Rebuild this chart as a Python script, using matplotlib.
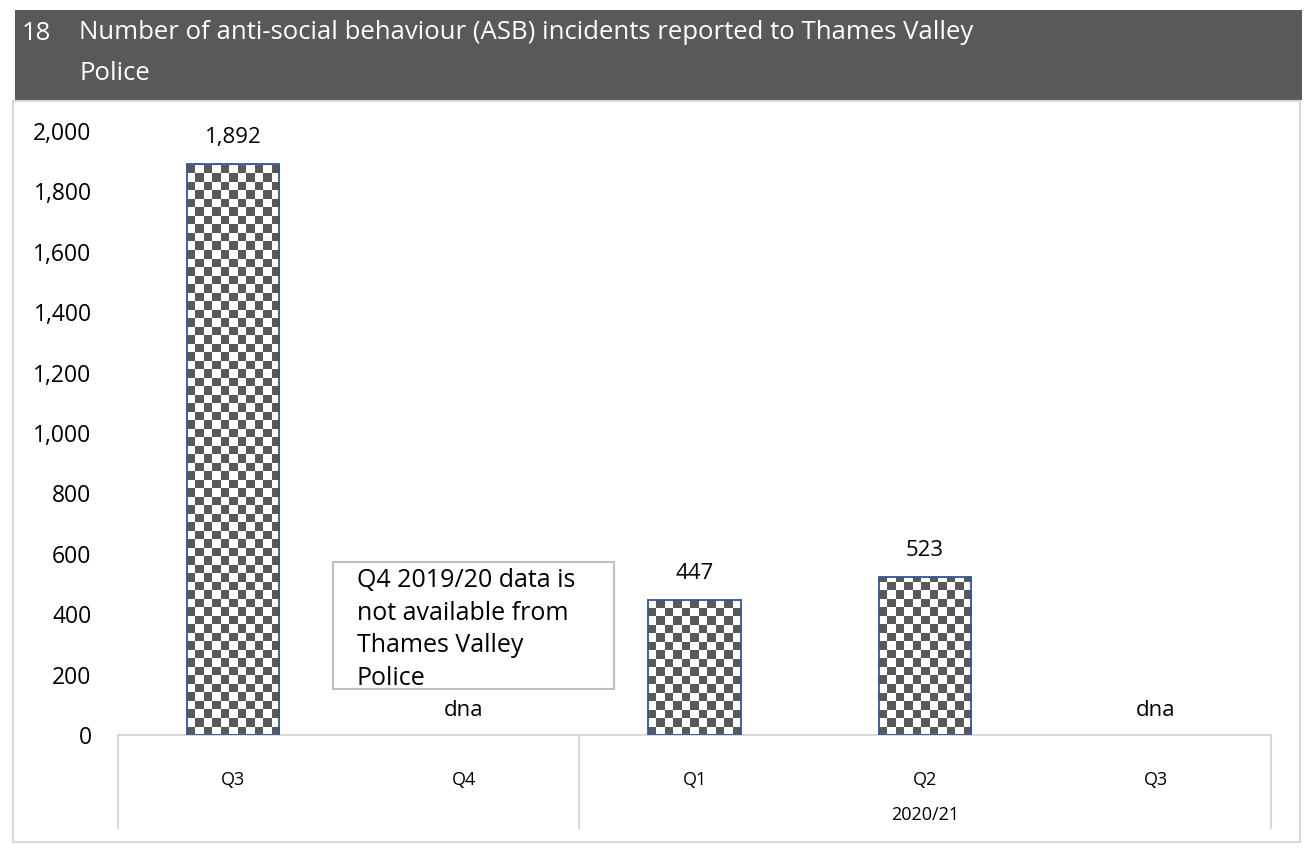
import numpy as np
import matplotlib
matplotlib.use('Agg')
from matplotlib import pyplot as plt
from matplotlib.patches import Rectangle
from matplotlib.transforms import blended_transform_factory

# data
quarters = ['Q3', 'Q4', 'Q1', 'Q2', 'Q3']
asb_counts = [1892, np.nan, 447, 523, np.nan]
year_labels = ['', '2020/21']
year_spans = [(0, 1), (2, 4)]
y_ticks = [0, 200, 400, 600, 800, 1000, 1200, 1400, 1600, 1800, 2000]
title_num = '18'
title_text = 'Number of anti-social behaviour (ASB) incidents reported to Thames Valley\nPolice'
note_text = 'Q4 2019/20 data is\nnot available from\nThames Valley\nPolice'

W, H = 1304, 848
plt.rcParams['font.family'] = ['Open Sans', 'DejaVu Sans']
dark = '#595959'
grid_col = '#D9D9D9'

fig = plt.figure(figsize=(W / 100, H / 100), dpi=100)

def fx(px):
    return px / W

def fy(py):
    return 1 - py / H

# header band and outer chart border
fig.patches.append(Rectangle((fx(15), fy(100)), fx(1302 - 15), (90) / H,
                             transform=fig.transFigure, facecolor=dark, edgecolor='none', zorder=-2))
fig.patches.append(Rectangle((fx(13), fy(842)), fx(1300 - 13), (842 - 101) / H,
                             transform=fig.transFigure, facecolor='none', edgecolor=grid_col,
                             linewidth=1.5, zorder=-1))
fig.text(fx(22), fy(33), title_num, color='white', fontsize=18.5, va='center', ha='left')
fig.text(fx(79), fy(20), title_text, color='white', fontsize=18.5, va='top', ha='left',
         linespacing=1.85)

# plot area
ax_l, ax_r, ax_t, ax_b = 118, 1271, 131, 735
ax = fig.add_axes([fx(ax_l), fy(ax_b), fx(ax_r - ax_l), (ax_b - ax_t) / H])
ax.set_xlim(-0.5, len(quarters) - 0.5)
ax.set_ylim(0, 2000)
ax.patch.set_visible(False)
for s in ax.spines.values():
    s.set_visible(False)

x = np.arange(len(quarters))
bar_w = 0.4
bars = ax.bar(x, asb_counts, width=bar_w, facecolor='none',
              edgecolor='#2F5597', linewidth=1.3, zorder=3)

# checkerboard fill clipped to each bar
cell_px = 8.5
px_per_x = (ax_r - ax_l) / (len(quarters))
px_per_y = (ax_b - ax_t) / 2000
for b, v in zip(bars, asb_counts):
    if np.isnan(v):
        continue
    nx = int(round(bar_w * px_per_x / cell_px))
    ny = int(np.ceil(v * px_per_y / cell_px)) + 1
    cw = bar_w / nx
    ch = cell_px / px_per_y
    checker = (np.add.outer(np.arange(ny), np.arange(nx)) % 2).astype(float)
    left = b.get_x()
    im = ax.imshow(checker, cmap=matplotlib.colors.ListedColormap([dark, 'white']),
                   extent=(left, left + nx * cw, 0, ny * ch), origin='lower',
                   interpolation='nearest', aspect='auto', zorder=2)
    im.set_clip_path(b)
ax.set_xlim(-0.5, len(quarters) - 0.5)
ax.set_ylim(0, 2000)

# data labels
for xi, v in zip(x, asb_counts):
    if np.isnan(v):
        ax.annotate('dna', (xi, 0), xytext=(0, 18), textcoords='offset points',
                    ha='center', va='center', fontsize=16)
    else:
        ax.annotate(f'{int(v):,}', (xi, v), xytext=(0, 19), textcoords='offset points',
                    ha='center', va='center', fontsize=16)

ax.set_yticks(y_ticks)
ax.set_yticklabels([f'{t:,}' for t in y_ticks], fontsize=16.5)
ax.tick_params(axis='y', length=0, pad=19)
ax.set_xticks([])

# category axis with two levels
tr = blended_transform_factory(ax.transData, ax.transAxes)
depth = (828 - ax_b) / (ax_b - ax_t)
ax.plot([-0.5, len(quarters) - 0.5], [0, 0], transform=tr, color=grid_col, lw=1.5, clip_on=False)
for xv in [-0.5, 1.5, len(quarters) - 0.5]:
    ax.plot([xv, xv], [0, -depth], transform=tr, color=grid_col, lw=1.5, clip_on=False)
q_y = -(780 - ax_b) / (ax_b - ax_t)
yr_y = -(815 - ax_b) / (ax_b - ax_t)
for xi, q in zip(x, quarters):
    ax.text(xi, q_y, q, transform=tr, ha='center', va='center', fontsize=13)
for lab, (a, b) in zip(year_labels, year_spans):
    ax.text((a + b) / 2, yr_y, lab, transform=tr, ha='center', va='center', fontsize=13)

# note box
fig.patches.append(Rectangle((fx(333), fy(689)), fx(614 - 333), (689 - 562) / H,
                             transform=fig.transFigure, facecolor='white', edgecolor='#BFBFBF',
                             linewidth=1.5, zorder=5))
fig.text(fx(357), fy(568), note_text, fontsize=18, va='top', ha='left', linespacing=1.4, zorder=6)

fig.savefig('out.png', dpi=100)
